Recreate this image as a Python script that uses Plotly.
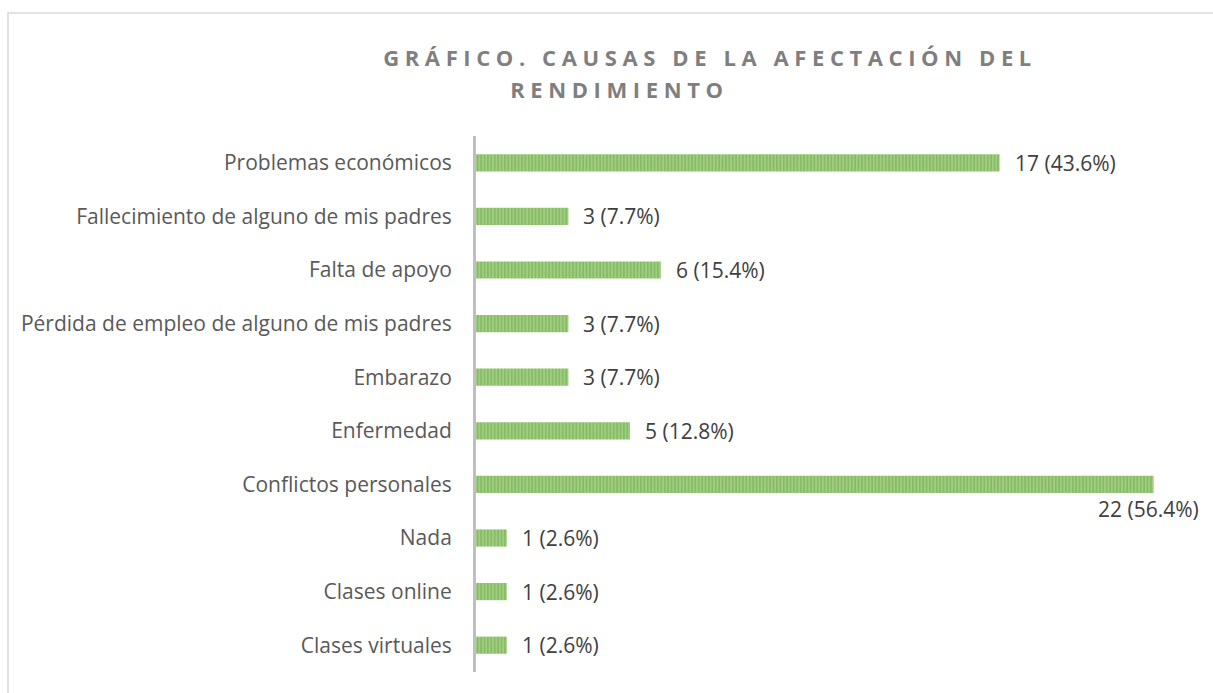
import plotly.graph_objects as go

categories = [
    "Problemas económicos",
    "Fallecimiento de alguno de mis padres",
    "Falta de apoyo",
    "Pérdida de empleo de alguno de mis padres",
    "Embarazo",
    "Enfermedad",
    "Conflictos personales",
    "Nada",
    "Clases online",
    "Clases virtuales",
]
counts = [17, 3, 6, 3, 3, 5, 22, 1, 1, 1]
total_respondents = 39
labels = [f"{v} ({v / total_respondents * 100:.1f}%)" for v in counts]

title_line1 = "GRÁFICO. CAUSAS DE LA AFECTACIÓN DEL"
title_line2 = "RENDIMIENTO"

W, H = 1213, 693
L, R, T, B = 476, 23, 136, 21
plot_w = W - L - R
plot_h = H - T - B
xmax = plot_w / 30.8

fig = go.Figure()
fig.add_trace(go.Bar(
    x=counts, y=categories, orientation="h",
    marker=dict(
        color="#9DCB7E",
        line=dict(width=0),
        pattern=dict(shape="|", fgcolor="#68A83F", bgcolor="#A6D08A", size=3.4, solidity=0.6),
    ),
    hoverinfo="skip",
))

label_font = dict(family="Open Sans", size=21, color="#404040")
annotations = []
for c, v, lab in zip(categories, counts, labels):
    if v == max(counts):
        annotations.append(dict(x=v, y=c, xref="x", yref="y", text=lab, showarrow=False,
                                xanchor="left", xshift=-58, yshift=-25, font=label_font))
    else:
        annotations.append(dict(x=v, y=c, xref="x", yref="y", text=lab, showarrow=False,
                                xanchor="left", xshift=13, font=label_font))

def px_x(p):
    return (p - L) / plot_w

def px_y(p):
    return 1 - (p - T) / plot_h

title_font = dict(family="Open Sans", size=22, color="#7F7F7F")
annotations.append(dict(x=px_x(710), y=px_y(57), xref="paper", yref="paper", text=f"<b>{title_line1}</b>",
                        showarrow=False, xanchor="center", yanchor="middle", font=title_font))
annotations.append(dict(x=px_x(619), y=px_y(89), xref="paper", yref="paper", text=f"<b>{title_line2}</b>",
                        showarrow=False, xanchor="center", yanchor="middle", font=title_font))

fig.update_layout(
    width=W, height=H,
    margin=dict(l=L, r=R, t=T, b=B, autoexpand=False),
    paper_bgcolor="white", plot_bgcolor="white",
    bargap=0.68,
    showlegend=False,
    annotations=annotations,
    shapes=[dict(type="rect", xref="paper", yref="paper",
                 x0=px_x(8), x1=px_x(1230), y0=px_y(13), y1=px_y(720),
                 line=dict(color="#D9D9D9", width=1.5), layer="below")],
    xaxis=dict(range=[0, xmax], showgrid=False, zeroline=False, showticklabels=False,
               showline=False, fixedrange=True),
    yaxis=dict(categoryorder="array", categoryarray=categories, autorange="reversed",
               showgrid=False, zeroline=False, showline=True, linecolor="#BFBFBF", linewidth=3,
               ticks="", ticklabelstandoff=17, fixedrange=True,
               tickfont=dict(family="Open Sans", size=21, color="#595959")),
)

post = """
document.body.style.margin = '0';
document.body.style.overflow = 'hidden';
var titles = ['GRÁFICO. CAUSAS DE LA AFECTACIÓN DEL', 'RENDIMIENTO'];
document.querySelectorAll('text.annotation-text').forEach(function(t) {
  if (titles.indexOf(t.textContent) >= 0) { t.style.letterSpacing = '5.6px'; }
});
"""
fig.write_html("out.html", post_script=post, config={"displayModeBar": False})
